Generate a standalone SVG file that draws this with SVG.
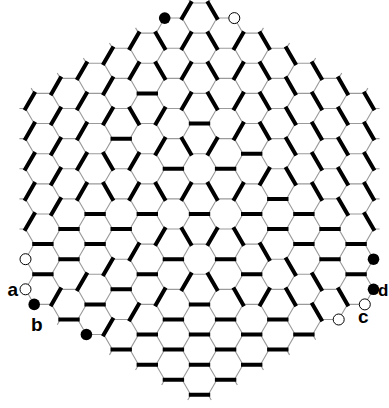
<svg xmlns="http://www.w3.org/2000/svg" width="389" height="408" viewBox="0 0 389 408">
<style>
.thin{fill:none;stroke:#9a9a9a;stroke-width:1.1}
.thick{fill:none;stroke:#000;stroke-width:4;stroke-linecap:square}
.blk{fill:#000}
.wht{fill:#fff;stroke:#000;stroke-width:1}
.lbl{font-family:"Liberation Sans",Arial,sans-serif;font-weight:bold;font-size:19px;fill:#000}
</style>
<rect width="389" height="408" fill="#fff"/>
<g id="connectors" transform="translate(199.5,3) scale(8.7,15.07)">
<path class="thin" vector-effect="non-scaling-stroke" d="M-19 6h2m-2 2h2m-2 2h2m-2 2h2m-2 2h2m-2 2h2m-2 2h2m-2 2h2
M-16 5h2m-2 2h2m-2 2h2m-2 2h2m-2 2h2m-2 2h2m-2 2h2m-2 2h2m-2 2h2
M-13 4h2m-2 2h2m-2 2h2m-2 2h2m-2 2h2m-2 2h2m-2 2h2m-2 2h2m-2 2h2m-2 2h2
M-10 3h2m-2 2h2m-2 2h2m-2 2h2m-2 2h2m-2 2h2m-2 2h2m-2 2h2m-2 2h2m-2 2h2m-2 2h2
M-7 2h2m-2 2h2m-2 2h2m-2 2h2m-2 2h2m-2 2h2m-2 2h2m-2 2h2m-2 2h2m-2 2h2m-2 2h2m-2 2h2
M-4 1h2m-2 2h2m-2 2h2m-2 2h2m-2 2h2m-2 2h2m-2 2h2m-2 2h2m-2 2h2m-2 2h2m-2 2h2m-2 2h2m-2 2h2
M-1 0h2m-2 2h2m-2 2h2m-2 2h2m-2 2h2m-2 2h2m-2 2h2m-2 2h2m-2 2h2m-2 2h2m-2 2h2m-2 2h2m-2 2h2m-2 2h2
M2 1h2m-2 2h2m-2 2h2m-2 2h2m-2 2h2m-2 2h2m-2 2h2m-2 2h2m-2 2h2m-2 2h2m-2 2h2m-2 2h2m-2 2h2
M5 2h2m-2 2h2m-2 2h2m-2 2h2m-2 2h2m-2 2h2m-2 2h2m-2 2h2m-2 2h2m-2 2h2m-2 2h2m-2 2h2
M8 3h2m-2 2h2m-2 2h2m-2 2h2m-2 2h2m-2 2h2m-2 2h2m-2 2h2m-2 2h2m-2 2h2m-2 2h2
M11 4h2m-2 2h2m-2 2h2m-2 2h2m-2 2h2m-2 2h2m-2 2h2m-2 2h2m-2 2h2m-2 2h2
M14 5h2m-2 2h2m-2 2h2m-2 2h2m-2 2h2m-2 2h2m-2 2h2m-2 2h2m-2 2h2
M17 6h2m-2 2h2m-2 2h2m-2 2h2m-2 2h2m-2 2h2m-2 2h2m-2 2h2"/>
<path class="thin" vector-effect="non-scaling-stroke" d="M-19 6l-1 1 1 1 -1 1 1 1 -1 1 1 1 -1 1 1 1 -1 1 1 1 -1 1 1 1 -1 1 1 1
M-16 5l-1 1 1 1 -1 1 1 1 -1 1 1 1 -1 1 1 1 -1 1 1 1 -1 1 1 1 -1 1 1 1 -1 1 1 1
M-13 4l-1 1 1 1 -1 1 1 1 -1 1 1 1 -1 1 1 1 -1 1 1 1 -1 1 1 1 -1 1 1 1 -1 1 1 1 -1 1 1 1
M-10 3l-1 1 1 1 -1 1 1 1 -1 1 1 1 -1 1 1 1 -1 1 1 1 -1 1 1 1 -1 1 1 1 -1 1 1 1 -1 1 1 1 -1 1 1 1
M-7 2l-1 1 1 1 -1 1 1 1 -1 1 1 1 -1 1 1 1 -1 1 1 1 -1 1 1 1 -1 1 1 1 -1 1 1 1 -1 1 1 1 -1 1 1 1 -1 1 1 1
M-4 1l-1 1 1 1 -1 1 1 1 -1 1 1 1 -1 1 1 1 -1 1 1 1 -1 1 1 1 -1 1 1 1 -1 1 1 1 -1 1 1 1 -1 1 1 1 -1 1 1 1 -1 1 1 1
M-1 0l-1 1 1 1 -1 1 1 1 -1 1 1 1 -1 1 1 1 -1 1 1 1 -1 1 1 1 -1 1 1 1 -1 1 1 1 -1 1 1 1 -1 1 1 1 -1 1 1 1 -1 1 1 1 -1 1 1 1
M1 0l1 1 -1 1 1 1 -1 1 1 1 -1 1 1 1 -1 1 1 1 -1 1 1 1 -1 1 1 1 -1 1 1 1 -1 1 1 1 -1 1 1 1 -1 1 1 1 -1 1 1 1 -1 1 1 1 -1 1
M4 1l1 1 -1 1 1 1 -1 1 1 1 -1 1 1 1 -1 1 1 1 -1 1 1 1 -1 1 1 1 -1 1 1 1 -1 1 1 1 -1 1 1 1 -1 1 1 1 -1 1 1 1 -1 1
M7 2l1 1 -1 1 1 1 -1 1 1 1 -1 1 1 1 -1 1 1 1 -1 1 1 1 -1 1 1 1 -1 1 1 1 -1 1 1 1 -1 1 1 1 -1 1 1 1 -1 1
M10 3l1 1 -1 1 1 1 -1 1 1 1 -1 1 1 1 -1 1 1 1 -1 1 1 1 -1 1 1 1 -1 1 1 1 -1 1 1 1 -1 1 1 1 -1 1
M13 4l1 1 -1 1 1 1 -1 1 1 1 -1 1 1 1 -1 1 1 1 -1 1 1 1 -1 1 1 1 -1 1 1 1 -1 1 1 1 -1 1
M16 5l1 1 -1 1 1 1 -1 1 1 1 -1 1 1 1 -1 1 1 1 -1 1 1 1 -1 1 1 1 -1 1 1 1 -1 1
M19 6l1 1 -1 1 1 1 -1 1 1 1 -1 1 1 1 -1 1 1 1 -1 1 1 1 -1 1 1 1 -1 1"/>
<path class="thin" vector-effect="non-scaling-stroke" d="M-7 2l-.35-.35M-10 3l-.35-.35M-13 4l-.35-.35M-16 5l-.35-.35M-19 6l-.35-.35M-1 0l-.35-.35M1 0l.35-.35
M7 2l.35-.35M10 3l.35-.35M13 4l.35-.35M16 5l.35-.35M19 6l.35-.35
M-20 7h-.7M-20 9h-.7M-20 11h-.7M-20 13h-.7M-20 15h-.7
M20 7h.7M20 9h.7M20 11h.7M20 13h.7M20 15h.7
M-1 26l-.35 .35M-4 25l-.35 .35M-7 24l-.35 .35M-10 23l-.35 .35M-13 22l-.35 .35M-16 21l-.35 .35
M1 26l.35 .35M4 25l.35 .35M7 24l.35 .35M10 23l.35 .35M13 22l.35 .35"/>
<path class="thick" vector-effect="non-scaling-stroke" d="M-19 16h2M-19 18h2M-16 15h2M-16 17h2M-16 21h2M-13 14h2M-13 16h2M-13 20h2M-10 9h2M-10 15h2M-10 19h2M-10 23h2M-7 6h2M-7 14h2M-7 18h2M-7 22h2M-7 24h2M-4 11h2M-4 17h2M-4 21h2M-4 23h2M-4 25h2M-1 8h2M-1 14h2M-1 20h2M-1 22h2M-1 24h2M-1 26h2M2 11h2M2 17h2M2 21h2M2 23h2M2 25h2M5 10h2M5 14h2M5 18h2M5 22h2M5 24h2M8 13h2M8 15h2M8 21h2M8 23h2M11 14h2M11 16h2M11 22h2M14 15h2M14 17h2M17 16h2M17 18h2"/>
<path class="thick" vector-effect="non-scaling-stroke" d="M-19 6l-1 1M-19 8l-1 1M-19 10l-1 1M-19 12l-1 1M-19 14l-1 1
M-16 5l-1 1M-16 7l-1 1M-16 9l-1 1M-16 11l-1 1M-16 13l-1 1M-16 19l-1 1
M-13 4l-1 1M-13 6l-1 1M-13 8l-1 1M-13 10l-1 1M-13 12l-1 1M-13 18l-1 1
M-10 3l-1 1M-10 5l-1 1M-10 7l-1 1M-10 17l-1 1M-10 21l-1 1
M-7 2l-1 1M-7 4l-1 1M-7 10l-1 1M-7 12l-1 1M-7 16l-1 1M-7 20l-1 1
M-4 7l-1 1M-4 9l-1 1M-4 15l-1 1M-4 19l-1 1
M-1 0l-1 1M-1 2l-1 1M-1 4l-1 1M-1 6l-1 1M-1 12l-1 1M-1 18l-1 1
M2 9l-1 1M2 15l-1 1
M5 2l-1 1M5 4l-1 1M5 6l-1 1M5 8l-1 1M5 12l-1 1
M8 11l-1 1M8 19l-1 1"/>
<path class="thick" vector-effect="non-scaling-stroke" d="M-10 11l-1-1M-10 13l-1-1
M-7 8l-1-1
M-4 3l-1-1M-4 5l-1-1M-4 13l-1-1
M-1 10l-1-1M-1 16l-1-1
M2 1l-1-1M2 3l-1-1M2 5l-1-1M2 7l-1-1M2 13l-1-1M2 19l-1-1
M5 16l-1-1M5 20l-1-1
M8 3l-1-1M8 5l-1-1M8 7l-1-1M8 9l-1-1M8 17l-1-1
M11 4l-1-1M11 6l-1-1M11 8l-1-1M11 10l-1-1M11 12l-1-1M11 18l-1-1M11 20l-1-1
M14 5l-1-1M14 7l-1-1M14 9l-1-1M14 11l-1-1M14 13l-1-1M14 19l-1-1M14 21l-1-1
M17 6l-1-1M17 8l-1-1M17 10l-1-1M17 12l-1-1M17 14l-1-1M17 20l-1-1
M20 7l-1-1M20 9l-1-1M20 11l-1-1M20 13l-1-1M20 15l-1-1"/>
</g>
<g id="top-black"><circle class="blk" cx="164.7" cy="18.1" r="5.8"/></g>
<g id="top-white"><circle class="wht" cx="234.3" cy="18.1" r="5.5"/></g>
<g id="left-white"><circle class="wht" cx="25.5" cy="259.2" r="5.5"/></g>
<g id="node-a"><circle class="wht" cx="25.5" cy="289.3" r="5.5"/><text class="lbl" x="7.5" y="296">a</text></g>
<g id="node-b"><circle class="blk" cx="34.2" cy="304.4" r="5.8"/><text class="lbl" x="31" y="331">b</text></g>
<g id="bottom-black"><circle class="blk" cx="86.4" cy="334.5" r="5.8"/></g>
<g id="right-black"><circle class="blk" cx="373.5" cy="259.2" r="5.8"/></g>
<g id="node-d"><circle class="blk" cx="373.5" cy="289.3" r="5.8"/><text class="lbl" x="378" y="296" style="font-size:17px">d</text></g>
<g id="node-c"><circle class="wht" cx="364.8" cy="304.4" r="5.5"/><text class="lbl" x="358" y="323">c</text></g>
<g id="bottom-white"><circle class="wht" cx="338.7" cy="319.5" r="5.5"/></g>
</svg>
